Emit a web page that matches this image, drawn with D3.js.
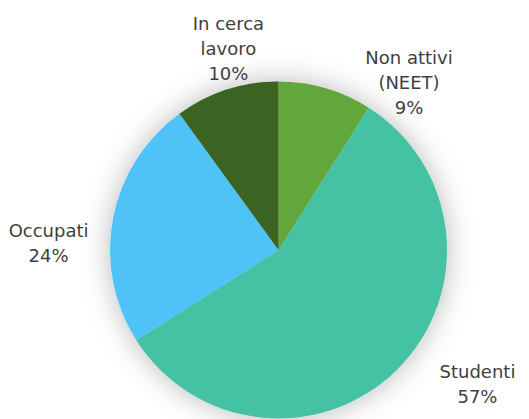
<!DOCTYPE html>
<html>
<head>
<meta charset="utf-8">
<script src="https://cdn.jsdelivr.net/npm/d3@7"></script>
<style>
  html, body { margin: 0; padding: 0; background: #fff; }
</style>
</head>
<body>
<div id="chart"></div>
<script>
var categories = ["Non attivi (NEET)", "Studenti", "Occupati", "In cerca lavoro"];
var labelLines = [["Non attivi", "(NEET)"], ["Studenti"], ["Occupati"], ["In cerca", "lavoro"]];
var values = [9, 57, 24, 10];
var colors = ["#62a73b", "#45c2a3", "#4fc3f7", "#3b6424"];

var width = 529;
var height = 419;
var cx = 278.5, cy = 250, radius = 168.5;

// where each label sits: angle (deg, clockwise from top) and distance from center
var labelPlace = [[38, 212], [124, 240], [271.5, 230], [346, 207]];

var svg = d3.select("#chart")
    .append("svg")
    .attr("width", width)
    .attr("height", height);

var defs = svg.append("defs");
var filt = defs.append("filter")
    .attr("id", "shadow")
    .attr("x", "-40%").attr("y", "-40%")
    .attr("width", "180%").attr("height", "180%");
filt.append("feDropShadow")
    .attr("dx", 0).attr("dy", 0)
    .attr("stdDeviation", 14)
    .attr("flood-color", "#000")
    .attr("flood-opacity", 0.28);

var g = svg.append("g")
    .attr("transform", "translate(" + cx + "," + cy + ")");

var pie = d3.pie().sort(null).value(function(d){ return d; });
var arc = d3.arc().innerRadius(0).outerRadius(radius);

var slices = g.append("g").attr("filter", "url(#shadow)");
slices.selectAll("path")
    .data(pie(values))
    .enter()
    .append("path")
    .attr("d", arc)
    .style("fill", function(d, i){ return colors[i]; });

var total = d3.sum(values);
var lineH = 25;

var labels = g.selectAll("text.lbl")
    .data(values)
    .enter()
    .append("text")
    .attr("class", "lbl")
    .attr("text-anchor", "middle")
    .style("font-family", "'DejaVu Sans', sans-serif")
    .style("font-size", "18px")
    .style("fill", "#404040")
    .each(function(d, i){
        var a = labelPlace[i][0] * Math.PI / 180;
        var dist = labelPlace[i][1];
        var x = Math.sin(a) * dist;
        var y = -Math.cos(a) * dist;
        var lines = labelLines[i].concat([Math.round(d / total * 100) + "%"]);
        var y0 = y - (lines.length - 1) * lineH / 2 + 6;
        var t = d3.select(this);
        lines.forEach(function(s, k){
            t.append("tspan")
                .attr("x", x)
                .attr("y", y0 + k * lineH)
                .text(s);
        });
    });
</script>
</body>
</html>
